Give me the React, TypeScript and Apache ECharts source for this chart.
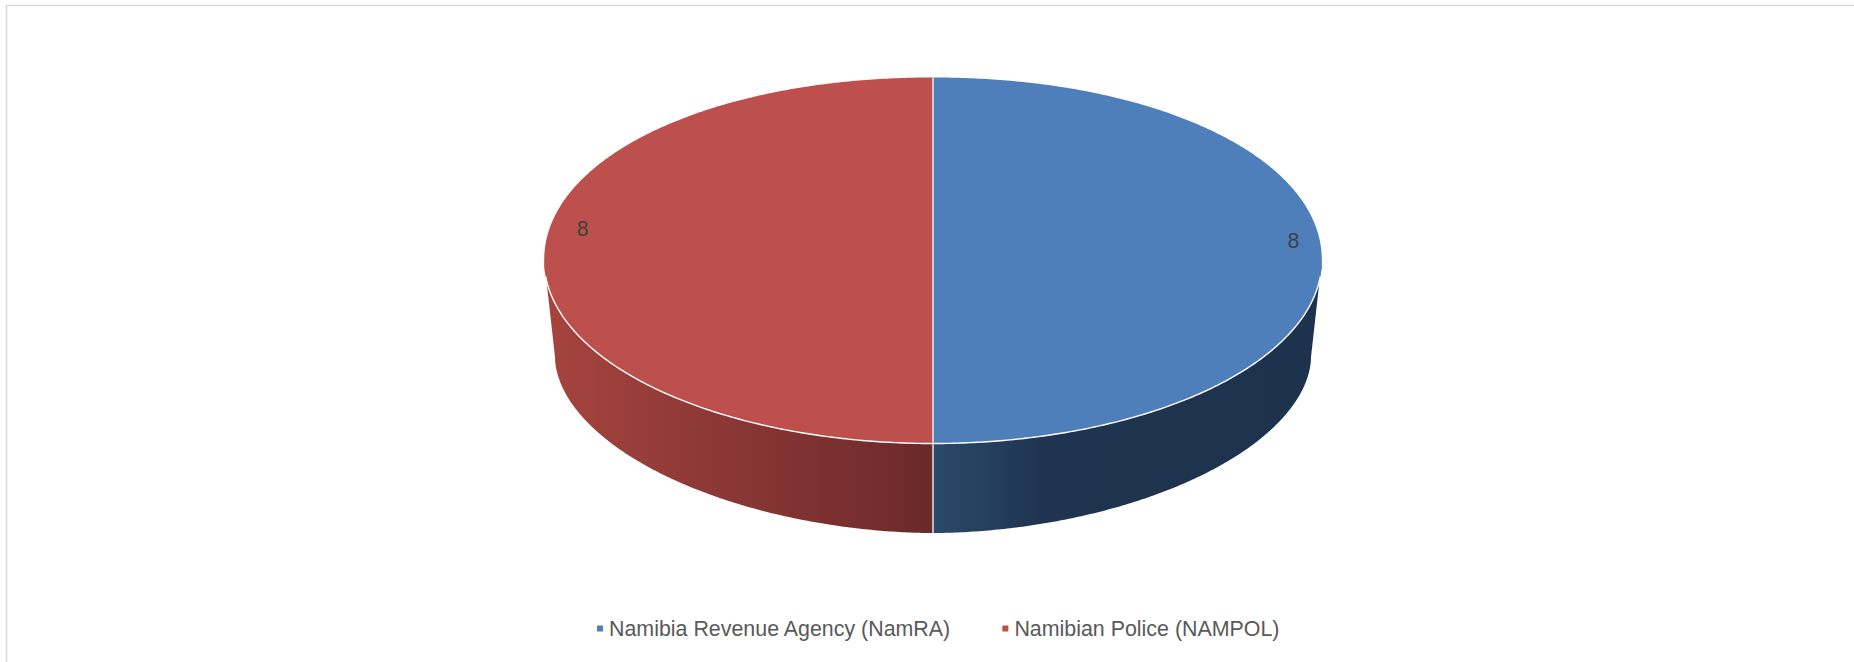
import React, { useEffect, useRef } from "react";
import * as echarts from "echarts";

const categories = ["Namibia Revenue Agency (NamRA)", "Namibian Police (NAMPOL)"];
const values = [8, 8];
const topColors = ["#4f7fbb", "#bd4f4c"];
const sideStops = [
  [[0, "#2b4a6b"], [0.28, "#1f3450"], [1, "#1d324c"]],
  [[0, "#a6443f"], [1, "#6b292a"]],
];
const labelOffsets = [[360.5, -19.8], [-350.3, -32]];

const CX = 933, CY = 260.5, RX = 388.8, RY = 183;
const BOTTOM_CY = 357, BOTTOM_RX = 378, BOTTOM_RY = 176;
const TOP_BACK_POWER = 2.05, TOP_FRONT_POWER = 2, BOTTOM_POWER = 1.88;

const total = values.reduce((a, b) => a + b, 0);
const arcPoints = (cx, cy, rx, ry, from, to, powerOf) => {
  const pts = [];
  const n = Math.max(2, Math.ceil(Math.abs(to - from) / 0.5));
  for (let i = 0; i <= n; i++) {
    const t = ((from + ((to - from) * i) / n) * Math.PI) / 180;
    const s = Math.sin(t), c = Math.cos(t);
    const e = 2 / powerOf(c);
    pts.push([cx + rx * Math.sign(s) * Math.abs(s) ** e, cy - ry * Math.sign(c) * Math.abs(c) ** e]);
  }
  return pts;
};
const topPower = (c) => (c > 0 ? TOP_BACK_POWER : TOP_FRONT_POWER);
const bottomPower = () => BOTTOM_POWER;

const makeSeries = (idx) => ({
  type: "custom",
  name: categories[idx],
  coordinateSystem: "none",
  data: [values[idx]],
  silent: true,
  itemStyle: { color: topColors[idx] },
  z: 2,
  renderItem: () => {
    const before = values.slice(0, idx).reduce((a, b) => a + b, 0);
    const a0 = (before / total) * 360;
    const a1 = ((before + values[idx]) / total) * 360;
    const lo = Math.max(a0, 90), hi = Math.min(a1, 270);
    const children = [];
    if (hi > lo) {
      const bottom = arcPoints(CX, BOTTOM_CY, BOTTOM_RX, BOTTOM_RY, lo, hi, bottomPower);
      const top = arcPoints(CX, CY, RX, RY, hi, lo, topPower);
      children.push({
        type: "polygon",
        shape: { points: bottom.concat(top) },
        style: {
          fill: new echarts.graphic.LinearGradient(
            0, 0, 1, 0,
            sideStops[idx].map(([offset, color]) => ({ offset, color }))
          ),
        },
      });
    }
    children.push({
      type: "polygon",
      shape: { points: [[CX, CY]].concat(arcPoints(CX, CY, RX, RY, a0, a1, topPower)) },
      style: { fill: topColors[idx] },
    });
    if (hi > lo) {
      children.push({
        type: "polyline",
        shape: { points: arcPoints(CX, CY, RX, RY, Math.max(lo, 95), Math.min(hi, 265), topPower) },
        style: { stroke: "#ffffff", fill: "none", lineWidth: 1.4 },
      });
    }
    children.push({
      type: "text",
      style: {
        x: CX + labelOffsets[idx][0],
        y: CY + labelOffsets[idx][1],
        text: String(values[idx]),
        fill: "#404040",
        font: '21.33px "Liberation Sans", Arial, sans-serif',
        align: "center",
        verticalAlign: "middle",
      },
    });
    return { type: "group", children };
  },
});

export default function App() {
  const ref = useRef(null);
  useEffect(() => {
    const chart = echarts.init(ref.current, null, { renderer: "svg" });
    chart.setOption({
      animation: false,
      backgroundColor: "#ffffff",
      color: topColors,
      legend: {
        data: categories,
        left: 597,
        top: 618,
        padding: 0,
        icon: "rect",
        itemWidth: 6,
        itemHeight: 6,
        itemGap: 51,
        textStyle: { color: "#595959", fontSize: 21.4, fontFamily: '"Liberation Sans", Arial, sans-serif', padding: [0, 0, 0, 1] },
      },
      graphic: [
        {
          type: "rect",
          silent: true,
          shape: { x: 6.5, y: 5.5, width: 1900, height: 700 },
          style: { fill: "none", stroke: "#d9d9d9", lineWidth: 1.5 },
        },
        {
          type: "line",
          silent: true,
          z: 10,
          shape: { x1: CX, y1: CY - RY, x2: CX, y2: BOTTOM_CY + BOTTOM_RY },
          style: { stroke: "#e2e7ef", lineWidth: 1.5 },
        },
      ],
      series: categories.map((_, i) => makeSeries(i)),
    });
    return () => chart.dispose();
  }, []);
  return <div ref={ref} style={{ position: "fixed", left: 0, top: 0, width: 1854, height: 662 }} />;
}
